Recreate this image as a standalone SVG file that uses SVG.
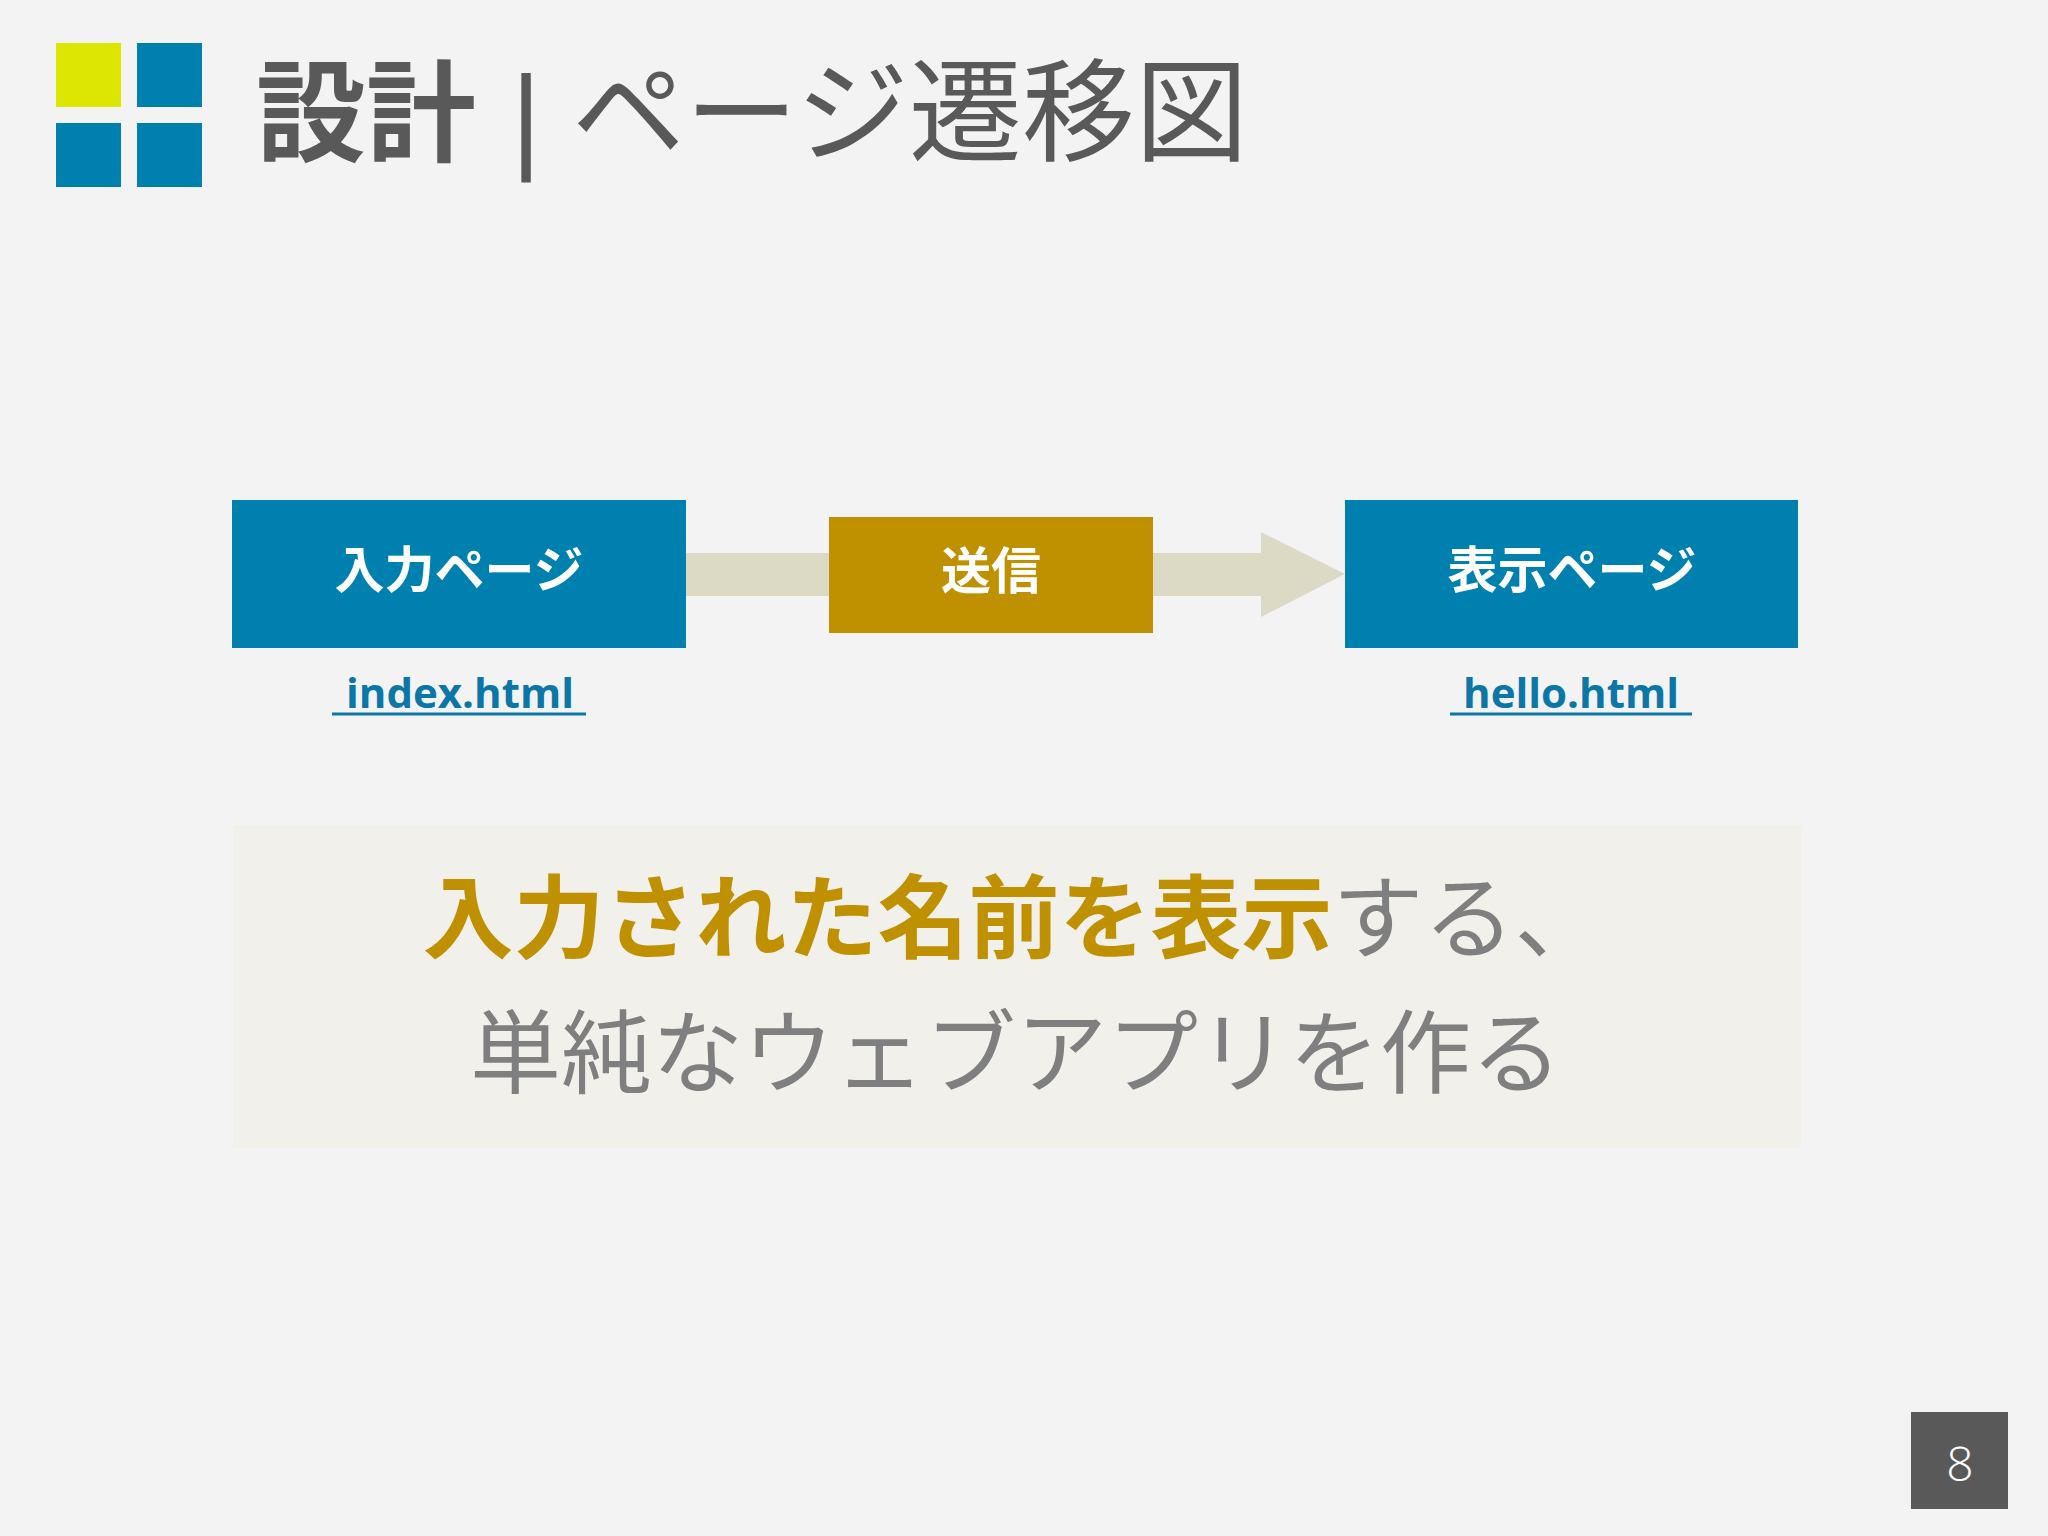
<svg xmlns="http://www.w3.org/2000/svg" width="2048" height="1536" viewBox="0 0 2048 1536">
<style>
.cjk{font-family:"Noto Sans CJK JP","Noto Sans",sans-serif}
.box{fill:#0080AF}
.nodeText{fill:#FFFFFF;font-size:50px;font-weight:700;text-anchor:middle}
.file{font-family:"Open Sans","Noto Sans",sans-serif;font-size:42px;font-weight:700;fill:#0B77A6;text-anchor:middle}
.uline{stroke:#0B77A6;stroke-width:3}
.gray{fill:#595959}
</style>
<rect x="0" y="0" width="2048" height="1536" fill="#F3F3F4"/>
<g id="logo">
<rect x="56" y="43" width="65" height="64" fill="#DDE600"/>
<rect x="137" y="43" width="65" height="64" fill="#0080AF"/>
<rect x="56" y="123" width="65" height="64" fill="#0080AF"/>
<rect x="137" y="123" width="65" height="64" fill="#0080AF"/>
</g>
<g id="title" class="cjk gray">
<text x="256" y="153" font-size="110" font-weight="700">設計</text>
<text x="526" y="158" font-size="116" text-anchor="middle" font-family="Liberation Sans, sans-serif" font-weight="400">|</text>
<text x="572" y="153" font-size="112" font-weight="400" textLength="676" lengthAdjust="spacingAndGlyphs">ページ遷移図</text>
</g>
<g id="connectors">
<polygon points="600,553 1261,553 1261,532 1345,574 1261,617 1261,596 600,596" fill="#DCDAC5"/>
</g>
<g id="node-input">
<rect class="box" x="232" y="500" width="454" height="148"/>
<text class="cjk nodeText" x="459" y="588">入力ページ</text>
</g>
<g id="node-send">
<rect x="829" y="517" width="324" height="116" fill="#BF9000"/>
<text class="cjk nodeText" x="991" y="589">送信</text>
</g>
<g id="node-display">
<rect class="box" x="1345" y="500" width="453" height="148"/>
<text class="cjk nodeText" x="1572" y="588">表示ページ</text>
</g>
<g id="label-index">
<text class="file" x="460" y="708">index.html</text>
<line class="uline" x1="332" y1="714" x2="586" y2="714"/>
</g>
<g id="label-hello">
<text class="file" x="1571" y="708">hello.html</text>
<line class="uline" x1="1450" y1="714" x2="1692" y2="714"/>
</g>
<g id="panel">
<rect x="233" y="825" width="1568" height="323" fill="#F2F0EA"/>
<text class="cjk" x="1014" y="951" font-size="91" text-anchor="middle"><tspan font-weight="700" fill="#BF9000">入力された名前を表示</tspan><tspan fill="#7F7F7F">する、</tspan></text>
<text class="cjk" x="1016" y="1086" font-size="91" text-anchor="middle" fill="#7F7F7F">単純なウェブアプリを作る</text>
</g>
<g id="page-number">
<rect x="1911" y="1412" width="97" height="97" fill="#595959"/>
<text x="1960" y="1481" font-size="48" text-anchor="middle" fill="#FFFFFF" font-family="Open Sans, sans-serif" font-weight="300">8</text>
</g>
</svg>
